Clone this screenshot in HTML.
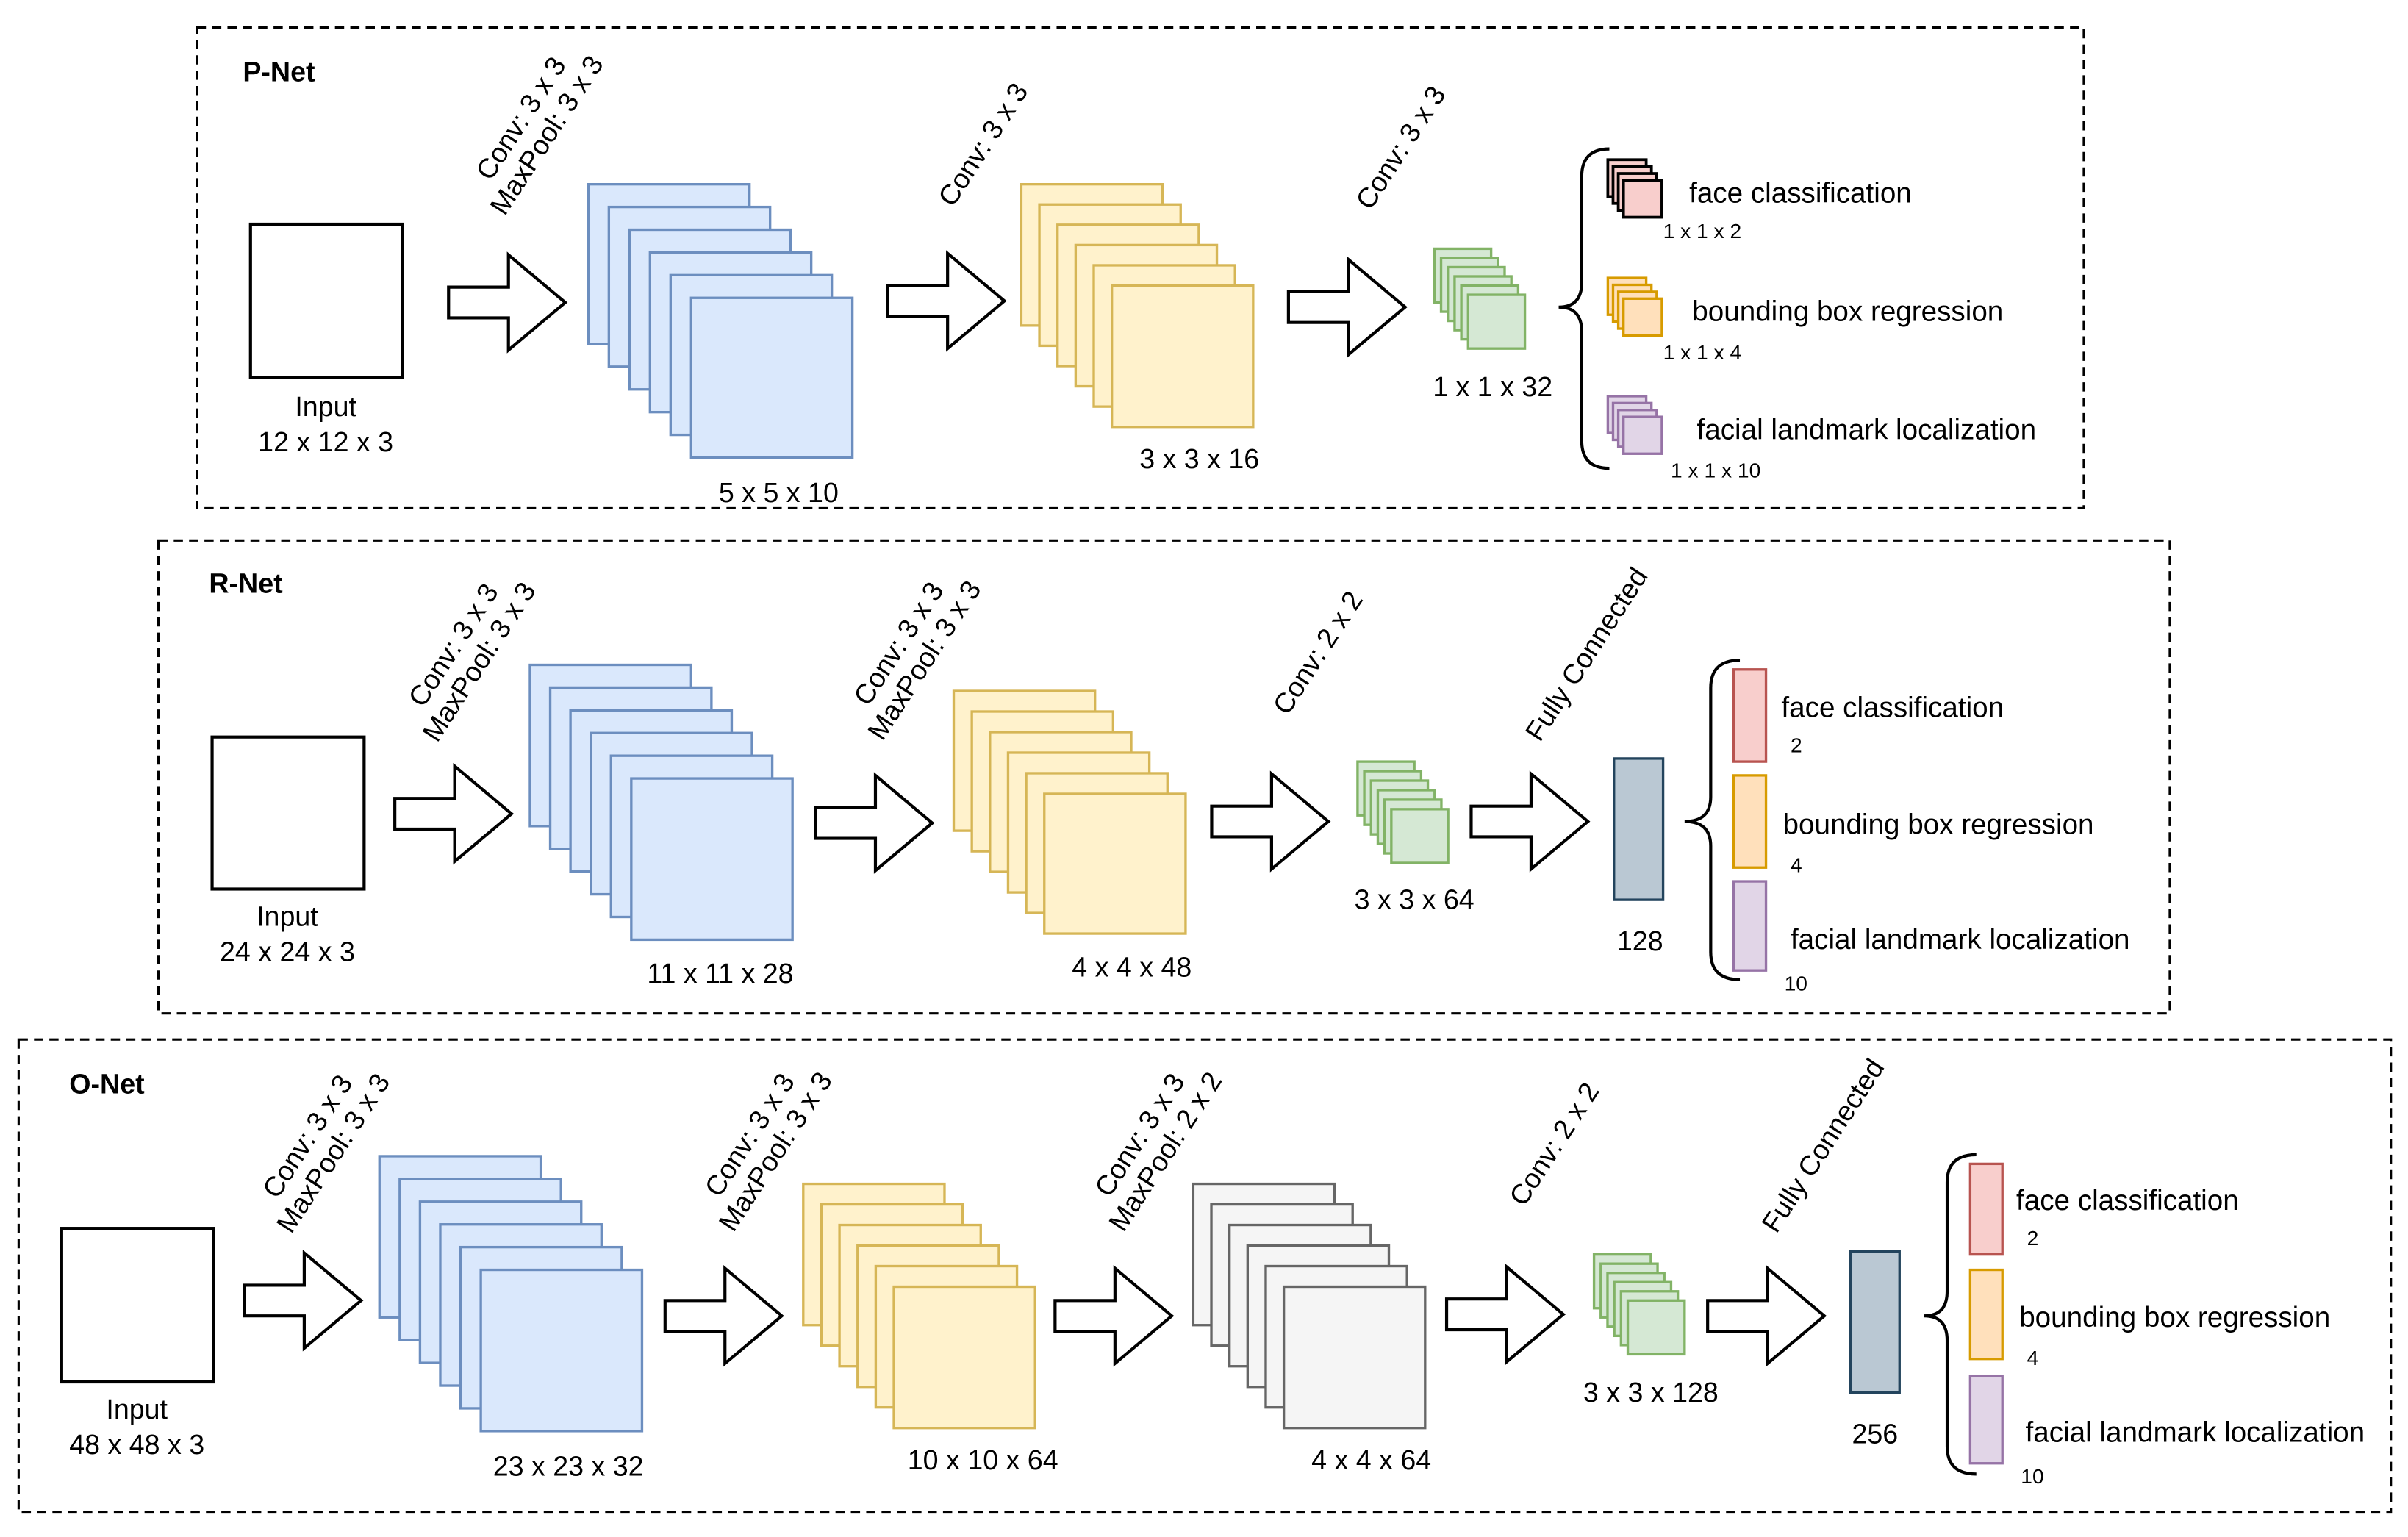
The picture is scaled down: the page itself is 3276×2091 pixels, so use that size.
<!DOCTYPE html>
<html><head><meta charset="utf-8"><style>
html,body{margin:0;padding:0;background:#fff;}
svg{display:block;}
text{font-family:"Liberation Sans",Arial,sans-serif;fill:#000;}
.b{fill:#dae8fc;stroke:#6c8ebf;stroke-width:1.6}
.y{fill:#fff2cc;stroke:#d6b656;stroke-width:1.6}
.g{fill:#d5e8d4;stroke:#82b366;stroke-width:1.6}
.gr{fill:#f5f5f5;stroke:#666;stroke-width:1.6}
.r{fill:#f8cecc;stroke:#000;stroke-width:1.8}
.rr{fill:#f8cecc;stroke:#b85450;stroke-width:1.6}
.o{fill:#ffe0bb;stroke:#d79b00;stroke-width:1.6}
.p{fill:#e1d5e7;stroke:#9673a6;stroke-width:1.6}
.fc{fill:#bac8d3;stroke:#23445d;stroke-width:1.6}
.box{fill:none;stroke:#000;stroke-width:1.5;stroke-dasharray:6,4}
.in{fill:#fff;stroke:#000;stroke-width:2}
.ar{fill:#fff;stroke:#000;stroke-width:2;stroke-linejoin:miter}
.br{fill:none;stroke:#000;stroke-width:2}
.t{font-size:18px}
.L{font-size:18.5px}
.s{font-size:13.5px}
.h{font-size:18px;font-weight:bold}
.c{text-anchor:middle}
</style></head><body>
<svg width="3276" height="2091" viewBox="0 0 1568 1001" xmlns="http://www.w3.org/2000/svg">
<defs>
<path id="arr" d="M0,-10 L39,-10 L39,-31 L76,0 L39,31 L39,10 L0,10 Z"/>
</defs>

<!-- P-Net -->
<rect class="box" x="128" y="18" width="1229" height="313"/>
<text class="h" x="158" y="53">P-Net</text>
<rect class="in" x="163" y="146" width="99" height="100"/>
<text class="t c" x="212" y="271">Input</text>
<text class="t c" x="212" y="294">12 x 12 x 3</text>
<use href="#arr" class="ar" transform="translate(292,197)"/>
<g transform="translate(339,77) rotate(-57)"><text class="t c" dominant-baseline="central" y="0">Conv: 3 x 3</text><text class="t c" dominant-baseline="central" y="20">MaxPool: 3 x 3</text></g>
<rect class="b" x="383" y="120" width="105" height="104"/><rect class="b" x="396.4" y="134.8" width="105" height="104"/><rect class="b" x="409.8" y="149.6" width="105" height="104"/><rect class="b" x="423.2" y="164.4" width="105" height="104"/><rect class="b" x="436.6" y="179.2" width="105" height="104"/><rect class="b" x="450" y="194" width="105" height="104"/>
<text class="t c" x="507" y="327">5 x 5 x 10</text>
<use href="#arr" class="ar" transform="translate(578,196)"/>
<g transform="translate(640,94) rotate(-57)"><text class="t c" dominant-baseline="central">Conv: 3 x 3</text></g>
<rect class="y" x="665" y="120" width="92" height="92"/><rect class="y" x="676.8" y="133.2" width="92" height="92"/><rect class="y" x="688.6" y="146.4" width="92" height="92"/><rect class="y" x="700.4" y="159.6" width="92" height="92"/><rect class="y" x="712.2" y="172.8" width="92" height="92"/><rect class="y" x="724" y="186" width="92" height="92"/>
<text class="t c" x="781" y="305">3 x 3 x 16</text>
<use href="#arr" class="ar" transform="translate(839,200)"/>
<g transform="translate(912,96) rotate(-57)"><text class="t c" dominant-baseline="central">Conv: 3 x 3</text></g>
<rect class="g" x="934" y="162" width="37" height="35"/><rect class="g" x="938.4" y="168" width="37" height="35"/><rect class="g" x="942.8" y="174" width="37" height="35"/><rect class="g" x="947.2" y="180" width="37" height="35"/><rect class="g" x="951.6" y="186" width="37" height="35"/><rect class="g" x="956" y="192" width="37" height="35"/>
<text class="t c" x="972" y="258">1 x 1 x 32</text>
<path class="br" d="M1048,97 Q1030,97 1030,115 L1030,184 Q1030,200 1015,200 Q1030,200 1030,216 L1030,287 Q1030,305 1048,305"/>
<rect class="r" x="1047" y="104" width="25" height="24"/><rect class="r" x="1050.4" y="108.5" width="25" height="24"/><rect class="r" x="1053.8" y="113" width="25" height="24"/><rect class="r" x="1057.2" y="117.5" width="25" height="24"/>
<rect class="o" x="1047" y="181" width="25" height="24"/><rect class="o" x="1050.4" y="185.5" width="25" height="24"/><rect class="o" x="1053.8" y="190" width="25" height="24"/><rect class="o" x="1057.2" y="194.5" width="25" height="24"/>
<rect class="p" x="1047" y="258" width="25" height="24"/><rect class="p" x="1050.4" y="262.5" width="25" height="24"/><rect class="p" x="1053.8" y="267" width="25" height="24"/><rect class="p" x="1057.2" y="271.5" width="25" height="24"/>
<text class="L" x="1100" y="132">face classification</text>
<text class="s" x="1083" y="155">1 x 1 x 2</text>
<text class="L" x="1102" y="209">bounding box regression</text>
<text class="s" x="1083" y="234">1 x 1 x 4</text>
<text class="L" x="1105" y="286">facial landmark localization</text>
<text class="s" x="1088" y="311">1 x 1 x 10</text>

<!-- R-Net -->
<rect class="box" x="103" y="352" width="1310" height="308"/>
<text class="h" x="136" y="386">R-Net</text>
<rect class="in" x="138" y="480" width="99" height="99"/>
<text class="t c" x="187" y="603">Input</text>
<text class="t c" x="187" y="626">24 x 24 x 3</text>
<use href="#arr" class="ar" transform="translate(257,530)"/>
<g transform="translate(295,420) rotate(-57)"><text class="t c" dominant-baseline="central" y="0">Conv: 3 x 3</text><text class="t c" dominant-baseline="central" y="20">MaxPool: 3 x 3</text></g>
<rect class="b" x="345" y="433" width="105" height="105"/><rect class="b" x="358.2" y="447.8" width="105" height="105"/><rect class="b" x="371.4" y="462.6" width="105" height="105"/><rect class="b" x="384.6" y="477.4" width="105" height="105"/><rect class="b" x="397.8" y="492.2" width="105" height="105"/><rect class="b" x="411" y="507" width="105" height="105"/>
<text class="t c" x="469" y="640">11 x 11 x 28</text>
<use href="#arr" class="ar" transform="translate(531,536)"/>
<g transform="translate(585,419) rotate(-57)"><text class="t c" dominant-baseline="central" y="0">Conv: 3 x 3</text><text class="t c" dominant-baseline="central" y="20">MaxPool: 3 x 3</text></g>
<rect class="y" x="621" y="450" width="92" height="91"/><rect class="y" x="632.8" y="463.4" width="92" height="91"/><rect class="y" x="644.6" y="476.8" width="92" height="91"/><rect class="y" x="656.4" y="490.2" width="92" height="91"/><rect class="y" x="668.2" y="503.6" width="92" height="91"/><rect class="y" x="680" y="517" width="92" height="91"/>
<text class="t c" x="737" y="636">4 x 4 x 48</text>
<use href="#arr" class="ar" transform="translate(789,535)"/>
<g transform="translate(858,425) rotate(-57)"><text class="t c" dominant-baseline="central">Conv: 2 x 2</text></g>
<rect class="g" x="884" y="496" width="37" height="35"/><rect class="g" x="888.4" y="502.2" width="37" height="35"/><rect class="g" x="892.8" y="508.4" width="37" height="35"/><rect class="g" x="897.2" y="514.6" width="37" height="35"/><rect class="g" x="901.6" y="520.8" width="37" height="35"/><rect class="g" x="906" y="527" width="37" height="35"/>
<text class="t c" x="921" y="592">3 x 3 x 64</text>
<use href="#arr" class="ar" transform="translate(958,535)"/>
<g transform="translate(1033,426) rotate(-57)"><text class="t c" dominant-baseline="central">Fully Connected</text></g>
<rect class="fc" x="1051" y="494" width="32" height="92"/>
<text class="t c" x="1068" y="619">128</text>
<path class="br" d="M1133,430 Q1114,430 1114,448 L1114,519 Q1114,535 1097,535 Q1114,535 1114,551 L1114,620 Q1114,638 1133,638"/>
<rect class="rr" x="1129" y="436" width="21" height="60"/>
<rect class="o" x="1129" y="505" width="21" height="60"/>
<rect class="p" x="1129" y="574" width="21" height="58"/>
<text class="L" x="1160" y="467">face classification</text>
<text class="s" x="1166" y="490">2</text>
<text class="L" x="1161" y="543">bounding box regression</text>
<text class="s" x="1166" y="568">4</text>
<text class="L" x="1166" y="618">facial landmark localization</text>
<text class="s" x="1162" y="645">10</text>

<!-- O-Net -->
<rect class="box" x="12" y="677" width="1545" height="308"/>
<text class="h" x="45" y="712">O-Net</text>
<rect class="in" x="40" y="800" width="99" height="100"/>
<text class="t c" x="89" y="924">Input</text>
<text class="t c" x="89" y="947">48 x 48 x 3</text>
<use href="#arr" class="ar" transform="translate(159,847)"/>
<g transform="translate(200,740) rotate(-57)"><text class="t c" dominant-baseline="central" y="0">Conv: 3 x 3</text><text class="t c" dominant-baseline="central" y="20">MaxPool: 3 x 3</text></g>
<rect class="b" x="247" y="753" width="105" height="105"/><rect class="b" x="260.2" y="767.8" width="105" height="105"/><rect class="b" x="273.4" y="782.6" width="105" height="105"/><rect class="b" x="286.6" y="797.4" width="105" height="105"/><rect class="b" x="299.8" y="812.2" width="105" height="105"/><rect class="b" x="313" y="827" width="105" height="105"/>
<text class="t c" x="370" y="961">23 x 23 x 32</text>
<use href="#arr" class="ar" transform="translate(433,857)"/>
<g transform="translate(488,739) rotate(-57)"><text class="t c" dominant-baseline="central" y="0">Conv: 3 x 3</text><text class="t c" dominant-baseline="central" y="20">MaxPool: 3 x 3</text></g>
<rect class="y" x="523" y="771" width="92" height="92"/><rect class="y" x="534.8" y="784.4" width="92" height="92"/><rect class="y" x="546.6" y="797.8" width="92" height="92"/><rect class="y" x="558.4" y="811.2" width="92" height="92"/><rect class="y" x="570.2" y="824.6" width="92" height="92"/><rect class="y" x="582" y="838" width="92" height="92"/>
<text class="t c" x="640" y="957">10 x 10 x 64</text>
<use href="#arr" class="ar" transform="translate(687,857)"/>
<g transform="translate(742,739) rotate(-57)"><text class="t c" dominant-baseline="central" y="0">Conv: 3 x 3</text><text class="t c" dominant-baseline="central" y="20">MaxPool: 2 x 2</text></g>
<rect class="gr" x="777" y="771" width="92" height="92"/><rect class="gr" x="788.8" y="784.4" width="92" height="92"/><rect class="gr" x="800.6" y="797.8" width="92" height="92"/><rect class="gr" x="812.4" y="811.2" width="92" height="92"/><rect class="gr" x="824.2" y="824.6" width="92" height="92"/><rect class="gr" x="836" y="838" width="92" height="92"/>
<text class="t c" x="893" y="957">4 x 4 x 64</text>
<use href="#arr" class="ar" transform="translate(942,856)"/>
<g transform="translate(1012,745) rotate(-57)"><text class="t c" dominant-baseline="central">Conv: 2 x 2</text></g>
<rect class="g" x="1038" y="817" width="37" height="35"/><rect class="g" x="1042.4" y="823" width="37" height="35"/><rect class="g" x="1046.8" y="829" width="37" height="35"/><rect class="g" x="1051.2" y="835" width="37" height="35"/><rect class="g" x="1055.6" y="841" width="37" height="35"/><rect class="g" x="1060" y="847" width="37" height="35"/>
<text class="t c" x="1075" y="913">3 x 3 x 128</text>
<use href="#arr" class="ar" transform="translate(1112,857)"/>
<g transform="translate(1187,746) rotate(-57)"><text class="t c" dominant-baseline="central">Fully Connected</text></g>
<rect class="fc" x="1205" y="815" width="32" height="92"/>
<text class="t c" x="1221" y="940">256</text>
<path class="br" d="M1287,752 Q1268,752 1268,770 L1268,841 Q1268,857 1253,857 Q1268,857 1268,873 L1268,942 Q1268,960 1287,960"/>
<rect class="rr" x="1283" y="758" width="21" height="59"/>
<rect class="o" x="1283" y="827" width="21" height="58"/>
<rect class="p" x="1283" y="896" width="21" height="57"/>
<text class="L" x="1313" y="788">face classification</text>
<text class="s" x="1320" y="811">2</text>
<text class="L" x="1315" y="864">bounding box regression</text>
<text class="s" x="1320" y="889">4</text>
<text class="L" x="1319" y="939">facial landmark localization</text>
<text class="s" x="1316" y="966">10</text>
</svg>
</body></html>
